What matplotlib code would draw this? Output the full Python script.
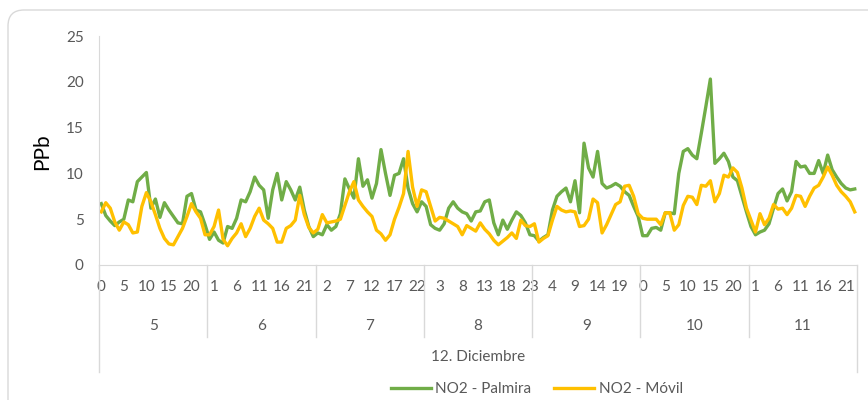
import matplotlib.pyplot as plt
import matplotlib.patches as mpatches
import matplotlib.transforms as mtransforms
from matplotlib.lines import Line2D
from matplotlib.transforms import IdentityTransform

plt.rcParams['font.family'] = ['Lato', 'DejaVu Sans']

days = ['5', '6', '7', '8', '9', '10', '11']
hours_per_day = 24

# NO2 - Palmira, one value per hour, 5 to 11 of December
palmira = [
    6.7, 5.4, 4.8, 4.3, 4.7, 5.0, 7.1, 6.9, 9.1, 9.6, 10.1, 6.2, 7.2, 5.2, 6.8, 6.0, 5.3, 4.6, 4.5, 7.5, 7.8, 6.0, 5.8, 4.4,
    2.8, 3.6, 2.7, 2.4, 4.2, 4.0, 5.1, 7.1, 6.9, 8.0, 9.6, 8.7, 8.2, 5.1, 8.2, 10.0, 7.1, 9.1, 8.2, 7.1, 8.5, 6.0, 4.2, 3.1,
    3.5, 3.3, 4.4, 3.8, 4.2, 5.6, 9.4, 8.3, 7.3, 11.6, 8.6, 9.3, 7.3, 8.9, 12.6, 10.0, 7.6, 9.8, 10.0, 11.6, 8.4, 6.7, 5.8, 6.9,
    6.4, 4.4, 4.0, 3.8, 4.5, 6.2, 6.9, 6.2, 5.8, 5.6, 4.8, 5.8, 5.9, 6.9, 7.1, 4.6, 3.3, 4.9, 3.9, 4.9, 5.8, 5.4, 4.6, 3.3,
    3.2, 2.6, 3.0, 3.3, 6.0, 7.5, 8.0, 8.4, 6.9, 9.2, 5.7, 13.3, 10.6, 9.6, 12.4, 8.9, 8.4, 8.6, 8.9, 8.6, 8.0, 7.6, 6.4, 5.3,
    3.2, 3.2, 4.0, 4.1, 3.8, 5.7, 5.7, 5.6, 10.0, 12.4, 12.7, 12.0, 11.6, 14.4, 17.3, 20.3, 11.1, 11.6, 12.2, 11.3, 9.6, 9.2, 7.5, 5.8,
    4.2, 3.3, 3.6, 3.8, 4.5, 6.2, 7.8, 8.3, 7.0, 8.0, 11.3, 10.7, 10.8, 10.0, 10.0, 11.4, 10.0, 12.0, 10.4, 9.6, 8.9, 8.4, 8.2, 8.3,
]

# NO2 - Movil
movil = [
    5.8, 6.8, 6.2, 4.7, 3.8, 4.7, 4.4, 3.5, 3.6, 6.4, 7.9, 6.9, 5.5, 4.0, 2.9, 2.3, 2.2, 3.1, 4.0, 5.3, 6.7, 5.8, 5.1, 3.3,
    3.3, 4.2, 6.0, 2.8, 2.1, 2.9, 3.5, 4.5, 3.1, 4.0, 5.3, 6.2, 4.9, 4.5, 4.0, 2.5, 2.5, 4.0, 4.3, 4.9, 7.6, 5.5, 4.1, 3.5,
    3.9, 5.5, 4.6, 4.7, 4.8, 5.0, 6.5, 8.0, 9.1, 7.1, 6.4, 5.8, 5.3, 3.8, 3.4, 2.7, 3.3, 5.0, 6.3, 7.8, 12.4, 8.5, 6.4, 8.2,
    8.0, 6.4, 4.8, 5.2, 5.1, 4.8, 4.5, 4.2, 3.3, 4.3, 4.0, 3.7, 4.6, 3.9, 3.4, 2.7, 2.2, 2.6, 3.0, 3.5, 2.9, 4.9, 4.3, 4.2,
    4.5, 2.5, 2.9, 3.2, 4.9, 6.4, 6.0, 5.8, 5.9, 5.8, 4.2, 4.3, 5.0, 7.2, 6.8, 3.5, 4.4, 5.5, 6.6, 6.9, 8.6, 8.7, 7.5, 5.6,
    5.1, 5.0, 5.0, 5.0, 4.4, 5.7, 5.7, 3.8, 4.4, 6.5, 7.5, 7.4, 6.6, 8.7, 8.6, 9.2, 6.9, 7.8, 9.8, 9.6, 10.6, 10.1, 8.4, 6.2,
    4.9, 3.6, 5.6, 4.4, 5.1, 6.6, 6.1, 6.2, 5.5, 6.2, 7.6, 7.5, 6.4, 7.5, 8.4, 8.7, 9.6, 10.7, 9.8, 8.7, 8.0, 7.5, 6.9, 5.8,
]

grey_txt = '#595959'
grey_line = '#D9D9D9'
n = len(palmira)
x = list(range(n))

fig = plt.figure(figsize=(8.68, 4.0), dpi=100)
ax = fig.add_axes([99 / 868, 1 - 265 / 400, (857 - 99) / 868, (265 - 36) / 400])

# chart border (rounded, cut by the right and bottom edges)
border = mpatches.FancyBboxPatch((8, -30), 900, 420, boxstyle='round,pad=0,rounding_size=16',
                                 transform=IdentityTransform(), facecolor='white',
                                 edgecolor=grey_line, linewidth=1.0, zorder=-10)
fig.patches.append(border)

ax.plot(x, palmira, color='#70AD47', linewidth=2.4, solid_joinstyle='round', label='NO2 - Palmira')
ax.plot(x, movil, color='#FFC000', linewidth=2.4, solid_joinstyle='round', label='NO2 - Móvil')

ax.set_xlim(-0.5, n - 0.5)
ax.set_ylim(0, 25)
ax.set_yticks([0, 5, 10, 15, 20, 25])
ax.tick_params(axis='y', length=0, pad=11, labelsize=11, labelcolor=grey_txt)

# hour labels every 5 points
ax.set_xticks(range(0, n, 5))
ax.set_xticklabels([str(i % hours_per_day) for i in range(0, n, 5)])
ax.tick_params(axis='x', length=0, pad=11, labelsize=11, labelcolor=grey_txt)

for s in ['top', 'right']:
    ax.spines[s].set_visible(False)
ax.spines['left'].set_color(grey_line)
ax.spines['bottom'].set_color(grey_line)
ax.patch.set_alpha(0)

# day groups below the hour labels
trans = mtransforms.blended_transform_factory(ax.transData, fig.transFigure)
for k, d in enumerate(days):
    ax.text(k * hours_per_day + (hours_per_day - 1) / 2, 1 - 326 / 400, d, transform=trans,
            ha='center', va='center', fontsize=11, color=grey_txt)
for k in range(1, len(days)):
    fig.add_artist(Line2D([k * hours_per_day - 0.5] * 2, [1 - 265 / 400, 1 - 337 / 400],
                          transform=trans, color=grey_line, linewidth=1.0))
for xe in [-0.5, n - 0.5]:
    fig.add_artist(Line2D([xe, xe], [1 - 265 / 400, 1 - 372 / 400],
                          transform=trans, color=grey_line, linewidth=1.0))

fig.text(478 / 868, 1 - 357 / 400, '12. Diciembre', ha='center', va='center', fontsize=11, color=grey_txt)
fig.text(42 / 868, 1 - 152 / 400, 'PPb', rotation=90, ha='center', va='center', fontsize=15, color='black')

fig.legend(loc='center', bbox_to_anchor=(537 / 868, 1 - 389 / 400), ncol=2, frameon=False,
           fontsize=11, labelcolor=grey_txt, handlelength=2.6, handletextpad=0.3, columnspacing=1.5)

plt.savefig('out.png', dpi=100)
